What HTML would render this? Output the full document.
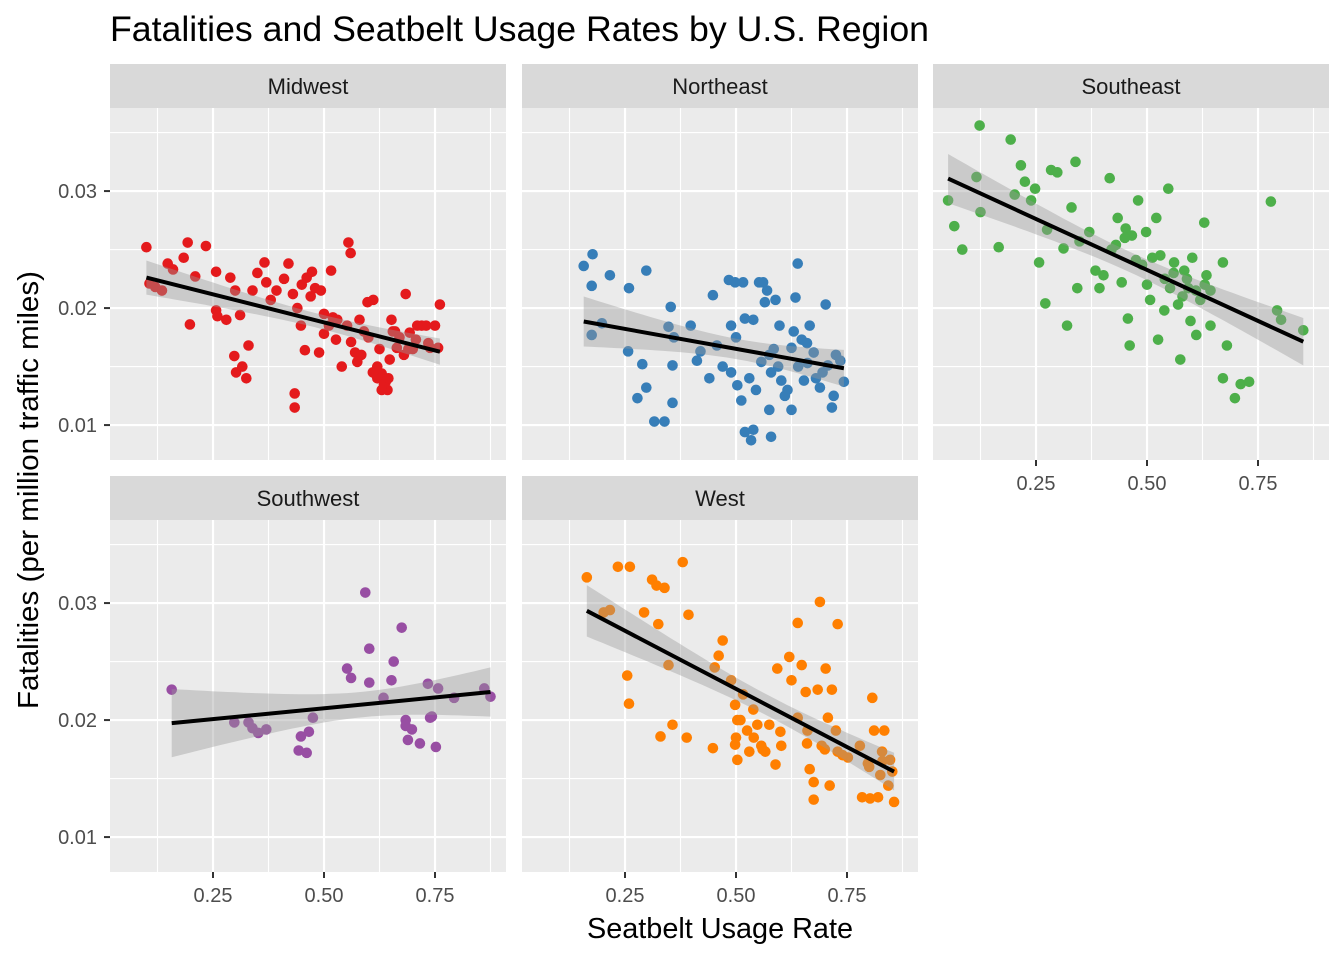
<!DOCTYPE html>
<html><head><meta charset="utf-8"><style>
body{margin:0;background:#fff}
svg text{font-family:"Liberation Sans",sans-serif}
</style></head><body>
<svg id="chart" width="1344" height="960" xmlns="http://www.w3.org/2000/svg">
<text x="110" y="41" font-size="35" textLength="819" lengthAdjust="spacingAndGlyphs" fill="#000">Fatalities and Seatbelt Usage Rates by U.S. Region</text>
<text transform="translate(38,490) rotate(-90)" text-anchor="middle" font-size="29" textLength="438" lengthAdjust="spacingAndGlyphs" fill="#000">Fatalities (per million traffic miles)</text>
<text x="720" y="938" text-anchor="middle" font-size="29" textLength="266" lengthAdjust="spacingAndGlyphs" fill="#000">Seatbelt Usage Rate</text>
</svg>
<script>
const regions=["Midwest","Northeast","Southeast","Southwest","West"];
const colors=["#E41A1C","#377EB8","#4DAF4A","#984EA3","#FF7F00"];
const xTicks=[0.25,0.5,0.75];
const xTickLabels=["0.25","0.50","0.75"];
const yTicks=[0.01,0.02,0.03];
const yTickLabels=["0.01","0.02","0.03"];
const midwestX=[.10,.107,.148,.184,.193,.198,.234,.257,.257,.28,.289,.298,.302,.316,.311,.325,.330,.366,.393,.420,.43,.434,.448,.457,.461,.473,.489,.493,.511,.516,.527,.552,.561,.555,.57,.575,.584,.580,.598,.611,.62,.63,.639,.643,.648,.652,.664,.684,.693,.707,.72,.739,.757,.761,.434,.48,.38,.339,.12,.135,.5,.53,.6,.62,.635,.66,.7,.73,.16,.21,.26,.3,.35,.37,.41,.44,.45,.47,.5,.52,.54,.56,.59,.61,.625,.63,.645,.655,.67,.68,.69,.71,.735,.75];
const midwestY=[.0252,.0221,.0238,.0243,.0256,.0186,.0253,.0231,.0198,.0190,.0226,.0159,.0145,.0150,.0194,.0140,.0168,.0239,.0215,.0238,.0212,.0127,.0185,.0164,.0226,.0231,.0162,.0215,.0185,.0232,.0173,.0185,.0171,.0256,.0162,.0154,.0160,.0190,.0205,.0207,.0150,.0144,.0137,.0130,.0156,.0190,.0166,.0212,.0179,.0173,.0185,.0166,.0166,.0203,.0115,.0217,.0207,.0215,.0218,.0215,.0195,.0190,.0175,.0140,.0135,.0180,.0165,.0185,.0233,.0227,.0193,.0215,.0230,.0222,.0225,.0200,.0220,.0210,.0178,.0192,.0150,.0247,.0180,.0145,.0165,.0130,.0140,.0180,.0175,.0160,.0165,.0185,.0170,.0185];
const northeastX=[.157,.177,.175,.216,.198,.175,.259,.298,.257,.289,.278,.298,.316,.339,.357,.353,.348,.357,.398,.412,.448,.457,.484,.498,.516,.489,.489,.503,.512,.52,.534,.539,.52,.539,.552,.561,.57,.589,.575,.579,.575,.579,.598,.602,.616,.625,.634,.639,.648,.653,.661,.666,.675,.689,.702,.707,.716,.725,.743,.625,.42,.557,.36,.44,.47,.5,.53,.545,.565,.585,.595,.61,.63,.64,.66,.68,.695,.72,.735];
const northeastY=[.0236,.0246,.0219,.0228,.0187,.0177,.0217,.0232,.0163,.0152,.0123,.0132,.0103,.0103,.0119,.0201,.0184,.0151,.0185,.0155,.0211,.0168,.0224,.0222,.0222,.0185,.0145,.0134,.0121,.0094,.0087,.0096,.0191,.0190,.0222,.0222,.0215,.0207,.0160,.0145,.0113,.0090,.0185,.0138,.0130,.0166,.0209,.0238,.0173,.0138,.0153,.0185,.0162,.0132,.0203,.0151,.0115,.0160,.0137,.0113,.0163,.0154,.0175,.0140,.0150,.0175,.0140,.0130,.0205,.0165,.0150,.0125,.0180,.0150,.0170,.0140,.0145,.0125,.0155];
const southeastX=[.052,.066,.084,.116,.125,.123,.166,.193,.202,.216,.225,.239,.248,.257,.275,.271,.284,.298,.312,.32,.33,.339,.343,.348,.37,.384,.393,.402,.416,.43,.434,.443,.452,.457,.461,.466,.475,.48,.489,.498,.507,.512,.521,.525,.53,.539,.548,.552,.561,.57,.575,.584,.593,.602,.611,.62,.629,.634,.643,.671,.68,.671,.698,.711,.73,.779,.793,.802,.852,.598,.643,.42,.45,.5,.54,.56,.58,.59,.61,.63];
const southeastY=[.0292,.0270,.0250,.0312,.0282,.0356,.0252,.0344,.0297,.0322,.0308,.0292,.0302,.0239,.0267,.0204,.0318,.0316,.0251,.0185,.0286,.0325,.0217,.0257,.0265,.0232,.0217,.0228,.0311,.0254,.0277,.0222,.0268,.0191,.0168,.0262,.0241,.0292,.0237,.0265,.0207,.0243,.0277,.0173,.0245,.0198,.0302,.0217,.0239,.0203,.0156,.0232,.0217,.0243,.0177,.0207,.0273,.0228,.0215,.0239,.0168,.0140,.0123,.0135,.0137,.0291,.0198,.0190,.0181,.0189,.0185,.0250,.0260,.0220,.0225,.0230,.0210,.0225,.0215,.0220];
const southwestX=[.157,.298,.33,.339,.352,.37,.443,.448,.461,.466,.475,.552,.561,.593,.602,.602,.634,.657,.652,.675,.684,.689,.698,.716,.734,.743,.752,.757,.793,.861,.875,.739,.684];
const southwestY=[.0226,.0198,.0198,.0193,.0189,.0192,.0174,.0186,.0172,.0190,.0202,.0244,.0236,.0309,.0261,.0232,.0219,.0250,.0234,.0279,.0200,.0183,.0192,.0180,.0231,.0203,.0177,.0227,.0219,.0227,.0220,.0202,.0195];
const westX=[.164,.202,.216,.234,.261,.255,.259,.293,.311,.321,.339,.325,.348,.330,.357,.380,.393,.389,.448,.452,.461,.47,.489,.498,.503,.498,.503,.516,.525,.53,.539,.548,.557,.566,.575,.589,.593,.602,.62,.625,.639,.639,.648,.657,.661,.666,.675,.675,.684,.689,.693,.702,.707,.716,.711,.725,.729,.729,.752,.779,.784,.797,.807,.811,.802,.82,.829,.834,.843,.847,.856,.852,.825,.5,.51,.54,.56,.6,.66,.7,.74,.8,.83];
const westY=[.0322,.0292,.0294,.0331,.0331,.0238,.0214,.0292,.0320,.0315,.0313,.0282,.0247,.0186,.0196,.0335,.0290,.0185,.0176,.0245,.0255,.0268,.0234,.0213,.0200,.0179,.0166,.0222,.0191,.0173,.0209,.0196,.0178,.0173,.0196,.0162,.0244,.0178,.0254,.0234,.0283,.0202,.0247,.0224,.0191,.0158,.0147,.0132,.0226,.0301,.0178,.0244,.0202,.0226,.0144,.0191,.0282,.0173,.0168,.0178,.0134,.0163,.0219,.0191,.0133,.0134,.0173,.0191,.0144,.0166,.0130,.0156,.0153,.0185,.0200,.0185,.0175,.0190,.0180,.0175,.0170,.0160,.0165];
const seriesX=[midwestX,northeastX,southeastX,southwestX,westX];
const seriesY=[midwestY,northeastY,southeastY,southwestY,westY];

const NS="http://www.w3.org/2000/svg";
const svg=document.getElementById('chart');
function mk(tag,attrs,parent){const e=document.createElementNS(NS,tag);for(const k in attrs)e.setAttribute(k,attrs[k]);(parent||svg).appendChild(e);return e;}
const panelW=396, panelH=352, XMIN=0.018, XSCALE=444, YTOP=0.0371, YSCALE=11700;
const lefts=[110,522,933,110,522], tops=[108,108,108,520,520];
function xs(p,v){return lefts[p]+(v-XMIN)*XSCALE;}
function ys(p,v){return tops[p]+(YTOP-v)*YSCALE;}

for(let p=0;p<5;p++){
  const L=lefts[p],T=tops[p];
  const g=mk('g',{});
  
  
  const strip=mk('rect',{x:L,y:T-44,width:panelW,height:44,fill:'#D9D9D9'},g);
  
  
  const st=mk('text',{x:L+panelW/2,y:T-14,'text-anchor':'middle','font-size':'22',fill:'#1A1A1A'},g);
  st.textContent=regions[p];
  
  
  const bg=mk('rect',{x:L,y:T,width:panelW,height:panelH,fill:'#EBEBEB'},g);
  
  
  [0.125,0.375,0.625,0.875].forEach(v=>mk('line',{x1:xs(p,v),x2:xs(p,v),y1:T,y2:T+panelH,stroke:'#fff','stroke-width':1.1},g));
  [0.015,0.025,0.035].forEach(v=>mk('line',{x1:L,x2:L+panelW,y1:ys(p,v),y2:ys(p,v),stroke:'#fff','stroke-width':1.1},g));
  xTicks.forEach(v=>mk('line',{x1:xs(p,v),x2:xs(p,v),y1:T,y2:T+panelH,stroke:'#fff','stroke-width':2.2},g));
  yTicks.forEach(v=>mk('line',{x1:L,x2:L+panelW,y1:ys(p,v),y2:ys(p,v),stroke:'#fff','stroke-width':2.2},g));
  if(p===0||p===3){
    yTicks.forEach((v,i)=>{
      mk('line',{x1:L-6,x2:L,y1:ys(p,v),y2:ys(p,v),stroke:'#333','stroke-width':2});
      const t=mk('text',{x:L-13,y:ys(p,v)+7,'text-anchor':'end','font-size':'20',fill:'#4D4D4D'});
      t.textContent=yTickLabels[i];
      
      
    });
  }
  if(p>=2){
    xTicks.forEach((v,i)=>{
      mk('line',{x1:xs(p,v),x2:xs(p,v),y1:T+panelH,y2:T+panelH+6,stroke:'#333','stroke-width':2});
      const t=mk('text',{x:xs(p,v),y:T+panelH+30,'text-anchor':'middle','font-size':'20',fill:'#4D4D4D'});
      t.textContent=xTickLabels[i];
      
      
    });
  }
  const X=seriesX[p],Y=seriesY[p];
  X.forEach((x,i)=>{
    const c=mk('circle',{cx:xs(p,x),cy:ys(p,Y[i]),r:5.3,fill:colors[p]},g);
    
    
  });
  const n=X.length;let mx=0,my=0;for(let i=0;i<n;i++){mx+=X[i];my+=Y[i];}mx/=n;my/=n;
  let sxx=0,sxy=0;for(let i=0;i<n;i++){sxx+=(X[i]-mx)**2;sxy+=(X[i]-mx)*(Y[i]-my);}
  const b=sxy/sxx,a=my-b*mx;let sse=0;for(let i=0;i<n;i++)sse+=(Y[i]-a-b*X[i])**2;
  const s=Math.sqrt(sse/(n-2));
  const x0=Math.min(...X),x1=Math.max(...X);
  let up=[],lo=[];
  for(let k=0;k<=40;k++){const x=x0+(x1-x0)*k/40;const yh=a+b*x;const se=s*Math.sqrt(1/n+(x-mx)**2/sxx)*2.0;
    up.push(xs(p,x).toFixed(1)+','+ys(p,yh+se).toFixed(1));lo.unshift(xs(p,x).toFixed(1)+','+ys(p,yh-se).toFixed(1));}
  const band=mk('polygon',{points:up.concat(lo).join(' '),fill:'#999999','fill-opacity':0.4},g);
  
  
  const ln=mk('line',{x1:xs(p,x0),y1:ys(p,a+b*x0),x2:xs(p,x1),y2:ys(p,a+b*x1),stroke:'#000','stroke-width':4},g);
  
  
}
</script>
</body></html>
